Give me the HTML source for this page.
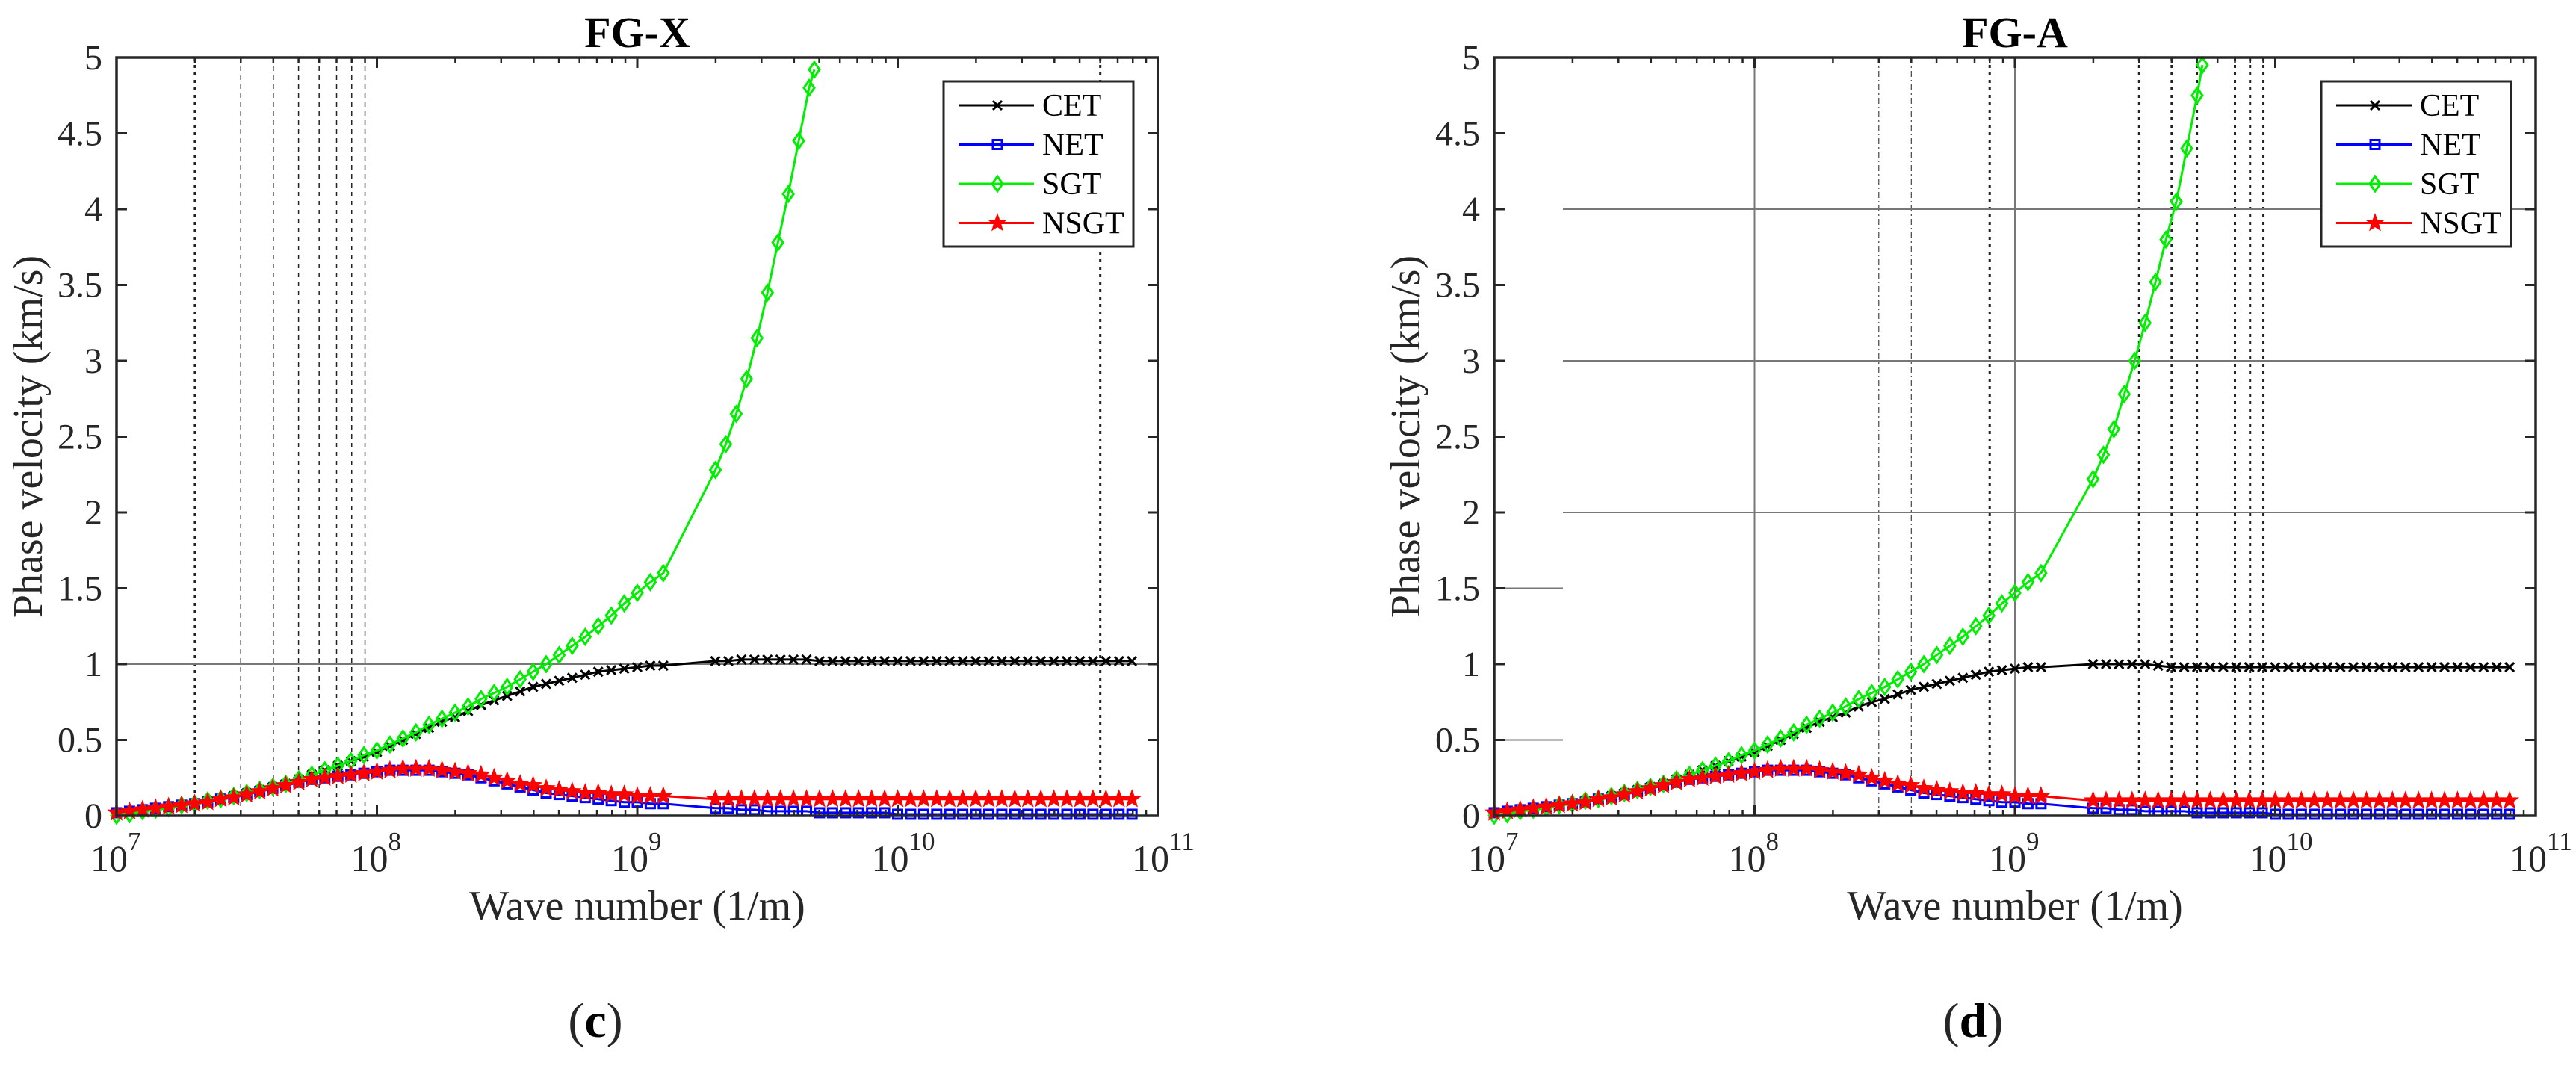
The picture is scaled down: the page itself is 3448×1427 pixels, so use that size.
<!DOCTYPE html>
<html><head><meta charset="utf-8"><title>Phase velocity vs wave number</title>
<style>
html,body{margin:0;padding:0;background:#fff;}
svg{display:block;}
svg text, svg tspan{font-family:"Liberation Serif","Times New Roman",serif !important;}
</style></head>
<body>
<svg id="fig" width="3448" height="1427" viewBox="0 0 3448 1427" xmlns="http://www.w3.org/2000/svg" font-family="Liberation Serif, serif">
<rect x="0" y="0" width="3448" height="1427" fill="#fff"/>
<g id="panelC"></g>
<g id="panelD"></g>
</svg>
<script>
// ---------- data ----------
const xs1 = [7.00,7.05,7.10,7.15,7.20,7.25,7.30,7.35,7.40,7.45,7.50,7.55,7.60,7.65,7.70,7.75,7.80,7.85,7.90,7.95,8.00,8.05,8.10,8.15,8.20,8.25,8.30,8.35,8.40,8.45,8.50,8.55,8.60,8.65,8.70,8.75,8.80,8.85,8.90,8.95,9.00,9.05,9.10];
const xs2 = [9.30,9.35,9.40,9.45,9.50,9.55,9.60,9.65,9.70,9.75,9.80,9.85,9.90,9.95,10.00,10.05,10.10,10.15,10.20,10.25,10.30,10.35,10.40,10.45,10.50,10.55,10.60,10.65,10.70,10.75,10.80,10.85,10.90];
const xsSgtC2 = [9.30,9.34,9.38,9.42,9.46,9.50,9.54,9.58,9.62,9.66,9.68];
const xsSgtD2 = [9.30,9.34,9.38,9.42,9.46,9.50,9.54,9.58,9.62,9.66,9.70,9.72];

// FG-X (c)
const cetC1 = [.02,.03,.04,.05,.06,.07,.08,.10,.11,.13,.15,.17,.19,.21,.24,.27,.30,.33,.36,.39,.42,.46,.50,.54,.58,.62,.65,.69,.73,.76,.79,.82,.85,.87,.89,.91,.93,.95,.96,.97,.98,.99,.99];
const cetC2 = [1.02,1.02,1.03,1.03,1.03,1.03,1.03,1.03,1.02,1.02,1.02,1.02,1.02,1.02,1.02,1.02,1.02,1.02,1.02,1.02,1.02,1.02,1.02,1.02,1.02,1.02,1.02,1.02,1.02,1.02,1.02,1.02,1.02];
const netC1 = [.02,.03,.04,.05,.06,.07,.08,.09,.11,.12,.14,.16,.18,.20,.22,.24,.25,.26,.27,.28,.29,.30,.30,.30,.30,.29,.28,.27,.25,.23,.21,.19,.17,.15,.14,.13,.12,.11,.10,.09,.09,.08,.08];
const netC2 = [.05,.05,.04,.04,.03,.03,.03,.03,.02,.02,.02,.02,.02,.02,.01,.01,.01,.01,.01,.01,.01,.01,.01,.01,.01,.01,.01,.01,.01,.01,.01,.01,.01];
const sgtC1 = [.00,.01,.03,.04,.05,.07,.08,.10,.11,.13,.15,.17,.19,.21,.24,.27,.30,.33,.36,.40,.43,.47,.51,.55,.60,.64,.68,.72,.77,.81,.85,.90,.95,1.00,1.06,1.12,1.18,1.25,1.32,1.40,1.47,1.54,1.60];
const sgtC2 = [2.28,2.45,2.65,2.88,3.15,3.45,3.78,4.10,4.45,4.80,4.92];
const nsgtC1 = [.02,.03,.04,.05,.06,.07,.08,.09,.11,.12,.14,.16,.18,.20,.22,.24,.25,.26,.27,.28,.29,.30,.31,.31,.31,.30,.29,.28,.27,.25,.23,.21,.20,.18,.17,.16,.15,.15,.14,.14,.13,.13,.13];
const nsgtC2 = [.11,.11,.11,.11,.11,.11,.11,.11,.11,.11,.11,.11,.11,.11,.11,.11,.11,.11,.11,.11,.11,.11,.11,.11,.11,.11,.11,.11,.11,.11,.11,.11,.11];

// FG-A (d)
const cetD1 = [.02,.03,.04,.05,.06,.07,.08,.10,.11,.13,.15,.17,.19,.21,.24,.27,.30,.33,.36,.39,.42,.46,.50,.54,.58,.62,.65,.68,.72,.75,.77,.80,.83,.85,.87,.89,.91,.93,.95,.96,.97,.98,.98];
const cetD2 = [1.00,1.00,1.00,1.00,1.00,.99,.98,.98,.98,.98,.98,.98,.98,.98,.98,.98,.98,.98,.98,.98,.98,.98,.98,.98,.98,.98,.98,.98,.98,.98,.98,.98,.98];
const netD1 = [.02,.03,.04,.05,.06,.07,.08,.09,.11,.12,.14,.16,.18,.20,.22,.24,.25,.26,.27,.28,.29,.30,.30,.30,.30,.29,.28,.27,.25,.23,.21,.19,.17,.15,.14,.13,.12,.11,.10,.09,.09,.08,.08];
const netD2 = [.05,.05,.04,.04,.03,.03,.03,.03,.02,.02,.02,.02,.02,.02,.01,.01,.01,.01,.01,.01,.01,.01,.01,.01,.01,.01,.01,.01,.01,.01,.01,.01,.01];
const sgtD1 = [.00,.01,.03,.04,.05,.07,.08,.10,.11,.13,.15,.17,.19,.21,.24,.27,.30,.33,.36,.40,.43,.47,.51,.55,.60,.64,.68,.72,.77,.81,.85,.90,.95,1.00,1.06,1.12,1.18,1.25,1.32,1.40,1.47,1.54,1.60];
const sgtD2 = [2.22,2.38,2.55,2.78,3.00,3.25,3.52,3.80,4.05,4.40,4.75,4.95];
const nsgtD1 = [.02,.03,.04,.05,.06,.07,.08,.09,.11,.12,.14,.16,.18,.20,.22,.24,.25,.26,.27,.28,.29,.30,.31,.31,.31,.30,.29,.28,.27,.25,.23,.21,.20,.18,.17,.16,.15,.15,.14,.14,.13,.13,.13];
const nsgtD2 = [.10,.10,.10,.10,.10,.10,.10,.10,.10,.10,.10,.10,.10,.10,.10,.10,.10,.10,.10,.10,.10,.10,.10,.10,.10,.10,.10,.10,.10,.10,.10,.10,.10];

const yTicks = [0,0.5,1,1.5,2,2.5,3,3.5,4,4.5,5];
const yTickLabels = ["0","0.5","1","1.5","2","2.5","3","3.5","4","4.5","5"];
const xDecades = [7,8,9,10,11];
const legendNames = ["CET","NET","SGT","NSGT"];
const seriesColors = ["#000000","#0000ff","#00ee00","#ff0000"];
const seriesMarkers = ["x","square","diamond","star"];

const vLinesC = [[2e7,"dot"],[3e7,"dash"],[4e7,"dash"],[5e7,"dash"],[6e7,"dash"],[7e7,"dash"],[8e7,"dash"],[9e7,"dash"],[6e10,"dot"]];
const hLinesC = [[1,7,11]];
const vLinesD = [[1e8,"grid"],[3e8,"dashdot"],[4e8,"dashdot"],[8e8,"dot"],[1e9,"grid"],[3e9,"dot"],[4e9,"dot"],[5e9,"dot"],[7e9,"dot"],[8e9,"dot"],[9e9,"dot"]];
const hLinesD = [[2,7.264,11],[3,7.264,11],[4,7.264,11],[1.5,7,7.264],[0.5,7,7.264]];

const NS = "http://www.w3.org/2000/svg";
const FONT = "'Liberation Serif', serif";
function mk(tag, attrs, parent){
  const e = document.createElementNS(NS, tag);
  for (const k in attrs) e.setAttribute(k, attrs[k]);
  if (parent) parent.appendChild(e);
  return e;
}
// text drawn at half size and scaled 2x (x,y in page px)
function txt(parent, x, y, size, anchor, fill, content, rot){
  const g = mk("g", {transform:"translate(" + x + "," + y + ")" + (rot ? " rotate(" + rot + ")" : "") + " scale(2)"}, parent);
  const t = mk("text", {x:0, y:0, "text-anchor":anchor, "font-size":size/2, fill:fill}, g);
  t.setAttribute("style", "font-family:" + FONT);
  t.textContent = content;
  return t;
}

function drawPanel(g, opt){
  const L = opt.left, R = opt.left + 1394, T = 77, B = 1092;
  const sx = e => L + (e - 7) * (R - L) / 4;
  const sy = v => B - v * (B - T) / 5;
  const gridG = mk("g", {}, g);
  
  
  opt.vLines.forEach(v => {
    const x = sx(Math.log10(v[0]));
    let st = {stroke:"#222","stroke-width":3,"stroke-dasharray":"4,6"};
    if (v[1] === "dash") st = {stroke:"#222","stroke-width":1.5,"stroke-dasharray":"6,6"};
    if (v[1] === "dashdot") st = {stroke:"#444","stroke-width":1.2,"stroke-dasharray":"8,4,2,4"};
    if (v[1] === "grid") st = {stroke:"#777","stroke-width":2};
    const ln = mk("line", Object.assign({x1:x,x2:x,y1:T,y2:B}, st), gridG);
    
    
  });
  opt.hLines.forEach(h => {
    const ln = mk("line", {x1:sx(h[1]),x2:sx(h[2]),y1:sy(h[0]),y2:sy(h[0]),stroke:"#777","stroke-width":2}, gridG);
    
    
  });

  opt.series.forEach((s, i) => {
    const sg = mk("g", {}, g);
    
    
    const xsAll = s.x1.concat(s.x2), ysAll = s.y1.concat(s.y2);
    const pts = xsAll.map((e, k) => sx(e).toFixed(1) + "," + sy(ysAll[k]).toFixed(1)).join(" ");
    const pl = mk("polyline", {points:pts, fill:"none", stroke:seriesColors[i], "stroke-width":3}, sg);
    
    
    xsAll.forEach((e, k) => {
      const m = marker(sg, seriesMarkers[i], sx(e), sy(ysAll[k]), seriesColors[i]);
      
      
    });
  });

  const ax = mk("rect", {x:L,y:T,width:R-L,height:B-T,fill:"none",stroke:"#262626","stroke-width":3.5}, g);
  
  

  yTicks.forEach((v, i) => {
    const y = sy(v);
    mk("line", {x1:L,x2:L+14,y1:y,y2:y,stroke:"#262626","stroke-width":3}, g);
    mk("line", {x1:R,x2:R-14,y1:y,y2:y,stroke:"#262626","stroke-width":3}, g);
    const t = txt(g, L-19, y+16, 48, "end", "#262626", yTickLabels[i]);
    
    
  });
  xDecades.forEach(d => {
    const x = sx(d);
    mk("line", {x1:x,x2:x,y1:B,y2:B-14,stroke:"#262626","stroke-width":3}, g);
    mk("line", {x1:x,x2:x,y1:T,y2:T+14,stroke:"#262626","stroke-width":3}, g);
    if (d < 11) for (let m = 2; m <= 9; m++) {
      const xm = sx(d + Math.log10(m));
      mk("line", {x1:xm,x2:xm,y1:B,y2:B-8,stroke:"#262626","stroke-width":2.5}, g);
      mk("line", {x1:xm,x2:xm,y1:T,y2:T+8,stroke:"#262626","stroke-width":2.5}, g);
    }
    const t = txt(g, x-10, 1166, 50, "middle", "#262626", "10");
    
    
    const sup = txt(g, x+15, 1138, 35, "start", "#262626", String(d));
    
    
  });

  const title = txt(g, (L+R)/2, 63, 58, "middle", "#000", opt.title);
  title.setAttribute("font-weight", "bold");
  
  
  const xl = txt(g, (L+R)/2, 1231, 56, "middle", "#262626", "Wave number (1/m)");
  
  
  const yl = txt(g, L-100, (T+B)/2, 56, "middle", "#262626", "Phase velocity (km/s)", -90);
  
  
  const cap = mk("text", {x:(L+R)/2-56,y:1388,"text-anchor":"middle","font-size":66,fill:"#262626"}, g);
  cap.setAttribute("style", "font-family:" + FONT);
  const p1 = mk("tspan", {}, cap); p1.textContent = "(";
  const p2 = mk("tspan", {"font-weight":"bold",fill:"#000"}, cap); p2.textContent = opt.caption;
  const p3 = mk("tspan", {}, cap); p3.textContent = ")";
  
  

  const lg = mk("g", {}, g);
  
  
  const lx = R - 287, ly = 109;
  mk("rect", {x:lx,y:ly,width:254,height:221,fill:"#fff",stroke:"#262626","stroke-width":3}, lg);
  legendNames.forEach((n, i) => {
    const ent = mk("g", {}, lg);
    
    
    const y = ly + 32 + i * 52.5;
    mk("line", {x1:lx+20,x2:lx+121,y1:y,y2:y,stroke:seriesColors[i],"stroke-width":3}, ent);
    marker(ent, seriesMarkers[i], lx+72, y, seriesColors[i]);
    txt(ent, lx+132, y+14, 42, "start", "#000", n);
  });
}

function marker(parent, type, x, y, c){
  let e;
  if (type === "x") {
    const r = 6;
    e = mk("path", {d:`M${x-r},${y-r}L${x+r},${y+r}M${x-r},${y+r}L${x+r},${y-r}`, stroke:c, "stroke-width":3, fill:"none"}, parent);
  } else if (type === "square") {
    e = mk("rect", {x:x-6,y:y-6,width:12,height:12,fill:"none",stroke:c,"stroke-width":3}, parent);
  } else if (type === "diamond") {
    e = mk("path", {d:`M${x},${y-10}L${x+7},${y}L${x},${y+10}L${x-7},${y}Z`, fill:"none", stroke:c, "stroke-width":3}, parent);
  } else {
    let d = "";
    for (let k = 0; k < 10; k++) {
      const r = k % 2 ? 5 : 12, a = -Math.PI/2 + k * Math.PI / 5;
      d += (k ? "L" : "M") + (x + r*Math.cos(a)).toFixed(1) + "," + (y + r*Math.sin(a)).toFixed(1);
    }
    e = mk("path", {d:d + "Z", fill:c, stroke:c, "stroke-width":1}, parent);
  }
  return e;
}

drawPanel(document.getElementById("panelC"), {
  left:156, title:"FG-X", caption:"c", vLines:vLinesC, hLines:hLinesC,
  series:[
    {x1:xs1,y1:cetC1,x2:xs2,y2:cetC2},
    {x1:xs1,y1:netC1,x2:xs2,y2:netC2},
    {x1:xs1,y1:sgtC1,x2:xsSgtC2,y2:sgtC2},
    {x1:xs1,y1:nsgtC1,x2:xs2,y2:nsgtC2}
  ]
});
drawPanel(document.getElementById("panelD"), {
  left:2000, title:"FG-A", caption:"d", vLines:vLinesD, hLines:hLinesD,
  series:[
    {x1:xs1,y1:cetD1,x2:xs2,y2:cetD2},
    {x1:xs1,y1:netD1,x2:xs2,y2:netD2},
    {x1:xs1,y1:sgtD1,x2:xsSgtD2,y2:sgtD2},
    {x1:xs1,y1:nsgtD1,x2:xs2,y2:nsgtD2}
  ]
});
</script>
</body></html>
